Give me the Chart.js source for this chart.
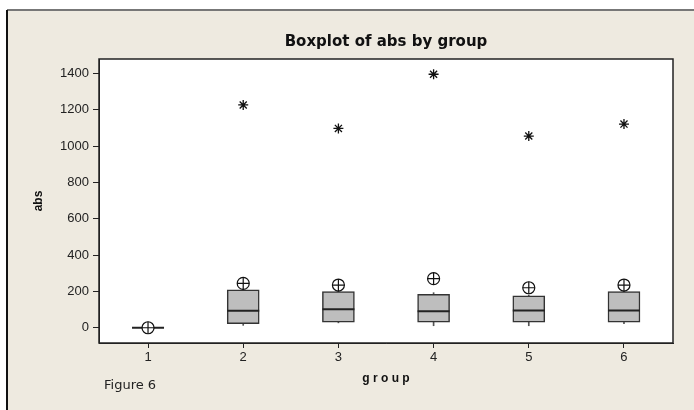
<!DOCTYPE html>
<html>
<head>
<meta charset="utf-8">
<script src="https://cdn.jsdelivr.net/npm/chart.js@4/dist/chart.umd.min.js"></script>
<style>
  html, body { margin: 0; padding: 0; background: #ffffff; }
  #wrap { width: 694px; height: 410px; position: relative; }
</style>
</head>
<body>
<div id="wrap"><canvas id="c" width="694" height="410"></canvas></div>
<script>
// Boxplot stats
const groups = [1, 2, 3, 4, 5, 6];
const q1 = [0, 22, 31, 31, 31, 31];
const median = [0, 94, 102, 91, 95, 95];
const q3 = [0, 209, 199, 184, 175, 199];
const whiskerLow = [0, 13, 27, 11, 11, 23];
const whiskerHigh = [0, 225, 212, 193, 180, 222];
const means = [0, 244, 235, 270, 220, 235];
const outliers = [null, 1226, 1097, 1395, 1055, 1121];
const yTicks = [0, 200, 400, 600, 800, 1000, 1200, 1400];

const FONT = "'Liberation Sans', 'DejaVu Sans', sans-serif";
const BG = "#eeeae0";

const pts = (arr) => groups.map((g, i) => ({ x: g, y: arr[i] })).filter((p) => p.y !== null);
const ranges = (lo, hi) => groups.map((g, i) => ({ x: g, y: [lo[i], hi[i]] }));

// background, outer frame, plot frame, title over plot area, footnote
const framePlugin = {
  id: "frame",
  beforeDraw(chart) {
    const ctx = chart.ctx;
    const a = chart.chartArea;
    ctx.save();
    ctx.fillStyle = "#ffffff";
    ctx.fillRect(0, 0, chart.width, chart.height);
    ctx.fillStyle = BG;
    ctx.fillRect(7, 10, chart.width - 7, chart.height - 10);
    ctx.fillStyle = "#777777";
    ctx.fillRect(7, 9, chart.width - 7, 2);
    ctx.fillStyle = "#111111";
    ctx.fillRect(6, 10, 2, chart.height - 10);
    ctx.fillStyle = "#ffffff";
    ctx.fillRect(a.left, a.top, a.right - a.left, a.bottom - a.top);
    ctx.restore();
  },
  afterDraw(chart) {
    const ctx = chart.ctx;
    const a = chart.chartArea;
    ctx.save();
    ctx.strokeStyle = "#222222";
    ctx.lineWidth = 1.5;
    ctx.strokeRect(a.left, a.top, a.right - a.left, a.bottom - a.top);
    ctx.fillStyle = "#111111";
    ctx.textBaseline = "middle";
    ctx.textAlign = "center";
    ctx.font = "bold 15px 'DejaVu Sans', sans-serif";
    ctx.fillText("Boxplot of abs by group", (a.left + a.right) / 2, 42);
    ctx.fillStyle = "#222222";
    ctx.font = "13px 'DejaVu Sans', sans-serif";
    ctx.textAlign = "left";
    ctx.fillText("Figure 6", 104, 386);
    ctx.restore();
  },
};

new Chart(document.getElementById("c"), {
  type: "bar",
  data: {
    datasets: [
      {
        label: "lower whisker",
        data: ranges(whiskerLow, q1),
        backgroundColor: "#555555",
        barThickness: 1,
        grouped: false,
        order: 6,
      },
      {
        label: "upper whisker",
        data: ranges(q3, whiskerHigh),
        backgroundColor: "#555555",
        barThickness: 1,
        grouped: false,
        order: 6,
      },
      {
        label: "box",
        data: ranges(q1, q3),
        backgroundColor: "#bebebe",
        borderColor: "#333333",
        borderWidth: 1.5,
        borderSkipped: false,
        barThickness: 32,
        grouped: false,
        order: 5,
      },
      {
        type: "scatter",
        label: "median",
        data: pts(median),
        pointStyle: "line",
        pointRadius: 16,
        borderColor: "#222222",
        borderWidth: 2,
        order: 4,
      },
      {
        type: "scatter",
        label: "mean circle",
        data: pts(means),
        pointStyle: "circle",
        pointRadius: 6,
        backgroundColor: "#ffffff",
        borderColor: "#111111",
        borderWidth: 1.2,
        order: 3,
      },
      {
        type: "scatter",
        label: "mean cross",
        data: pts(means),
        pointStyle: "cross",
        pointRadius: 6,
        borderColor: "#111111",
        borderWidth: 1.2,
        order: 2,
      },
      {
        type: "scatter",
        label: "outlier",
        data: pts(outliers),
        pointStyle: "star",
        pointRadius: 5,
        borderColor: "#111111",
        borderWidth: 1.3,
        order: 1,
      },
    ],
  },
  options: {
    responsive: false,
    animation: false,
    events: [],
    layout: { padding: { left: 0, top: 59, right: 21, bottom: 0 } },
    plugins: {
      legend: { display: false },
      tooltip: { enabled: false },
      title: { display: false },
    },
    scales: {
      x: {
        type: "linear",
        min: 0.485,
        max: 6.515,
        offset: false,
        afterBuildTicks: (s) => { s.ticks = groups.map((v) => ({ value: v })); },
        afterFit: (s) => { s.height = 67; },
        ticks: {
          color: "#222222",
          font: { family: FONT, size: 13 },
          padding: 2,
          maxRotation: 0,
          callback: (v) => String(v),
        },
        grid: { display: true, offset: false, drawOnChartArea: false, drawTicks: true, tickLength: 5, color: "#222222", lineWidth: 1 },
        border: { display: true, color: "#222222" },
        title: {
          display: true,
          text: "g r o u p",
          color: "#111111",
          font: { family: FONT, size: 12, weight: "bold" },
          padding: { top: 0, bottom: 24 },
        },
      },
      y: {
        min: -84,
        max: 1479,
        afterBuildTicks: (s) => { s.ticks = yTicks.map((v) => ({ value: v })); },
        afterFit: (s) => { s.width = 99; },
        ticks: {
          color: "#222222",
          font: { family: FONT, size: 13 },
          padding: 4,
          callback: (v) => String(v),
        },
        grid: { display: true, drawOnChartArea: false, drawTicks: true, tickLength: 6, color: "#222222", lineWidth: 1 },
        border: { display: true, color: "#222222" },
        title: {
          display: true,
          text: "abs",
          color: "#111111",
          font: { family: FONT, size: 12, weight: "bold" },
          padding: { top: 31, bottom: 0 },
        },
      },
    },
  },
  plugins: [framePlugin],
});
</script>
</body>
</html>
